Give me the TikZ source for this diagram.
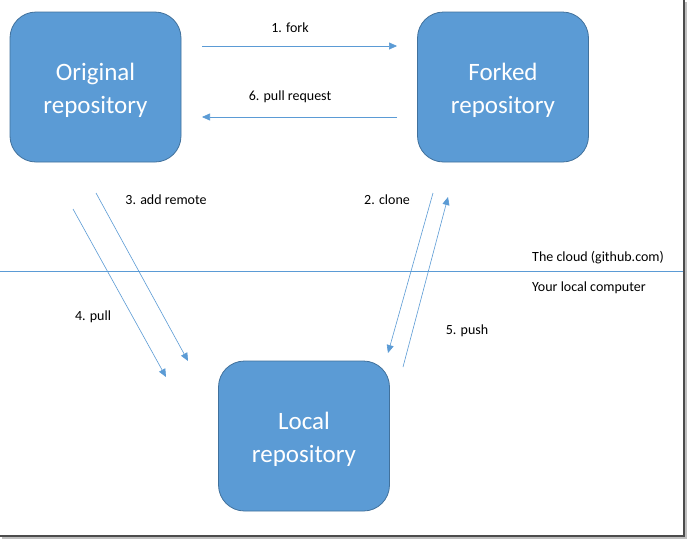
\documentclass[tikz,border=0pt]{standalone}
\usepackage{fontspec}
\setmainfont{Carlito}
\usetikzlibrary{arrows.meta,positioning}
\definecolor{repofill}{HTML}{5B9BD5}
\definecolor{repoedge}{HTML}{41719C}
\definecolor{flowline}{HTML}{5B9BD5}
\tikzset{
  repo/.style={draw=repoedge,fill=repofill,rounded corners=26pt,
    minimum width=171pt,minimum height=150pt,line width=0.8pt},
  repotext/.style={text=white,align=center,inner sep=0pt,
    font=\fontsize{25}{33}\selectfont},
  flow/.style={->,draw=flowline,line width=0.6pt},
  lbl/.style={font=\fontsize{14}{16}\selectfont,inner sep=0pt}
}
\begin{document}
\begin{tikzpicture}[x=1pt,y=-1pt,>={Triangle[length=8pt,width=7pt]}]
  \useasboundingbox (0,0) rectangle (687,539);
  \fill[white] (0,0) rectangle (687,539);

  % --- repositorios
  \node[repo] (orig)   at (95.5,87)  {};
  \node[repo] (forked) at (503,87)   {};
  \node[repo] (local)  at (304,436)  {};
  \node[repotext] (origtxt)   at ([yshift=-3pt]orig.center)   {Original\\repository};
  \node[repotext] (forkedtxt) at ([yshift=-3pt]forked.center) {Forked\\repository};
  \node[repotext] (localtxt)  at ([yshift=-3pt]local.center)  {Local\\repository};

  % --- extremos de las flechas
  \coordinate (forkA) at (202,46);   \coordinate (forkB) at (397,46);
  \coordinate (prA)   at (397,117);  \coordinate (prB)   at (202,117);
  \coordinate (remA)  at (96,193);   \coordinate (remB)  at (188,361);
  \coordinate (pullA) at (73,209);   \coordinate (pullB) at (166,377);
  \coordinate (clA)   at (433,193);  \coordinate (clB)   at (388,353);
  \coordinate (puA)   at (403,367);  \coordinate (puB)   at (448,197);

  % --- flechas
  \draw[flow] (forkA) -- (forkB);
  \draw[flow] (prA) -- (prB);
  \draw[flow] (remA) -- (remB);
  \draw[flow] (pullA) -- (pullB);
  \draw[flow] (clA) -- (clB);
  \draw[flow] (puA) -- (puB);

  % --- etiquetas
  \node[lbl] (tfork)  at (290,28)  {1. fork};
  \node[lbl] (tpr)    at (290,97)  {6. pull request};
  \node[lbl] (trem)   at (166,200) {3. add remote};
  \node[lbl] (tclone) at (387,200) {2. clone};
  \node[lbl] (tpull)  at (93,317)  {4. pull};
  \node[lbl] (tpush)  at (467,331) {5. push};

  % --- frontera nube / local
  \coordinate (lineA) at (0,271);
  \coordinate (lineB) at (683,271);
  \draw[draw=flowline,line width=0.6pt] (lineA) -- (lineB);
  \node[lbl,anchor=west] (tcloud) at (532,258) {The cloud (github.com)};
  \node[lbl,anchor=west] (tlocal) at (532,288) {Your local computer};

  % --- marco
  \draw[black!70,line width=1.5pt] (684,0) -- (684,536) -- (0,536);
  \draw[black!25,line width=1.2pt] (686,2) -- (686,538) -- (2,538);
\end{tikzpicture}
\end{document}
